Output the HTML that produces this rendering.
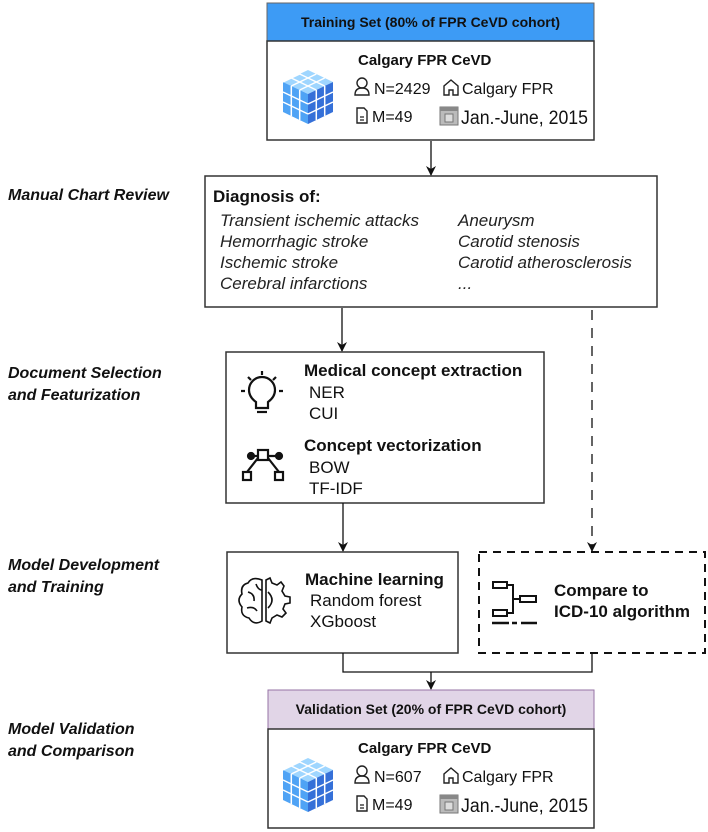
<!DOCTYPE html>
<html><head><meta charset="utf-8"><style>
html,body{margin:0;padding:0;background:#fff}
svg{display:block}
text{font-family:"Liberation Sans",Arial,sans-serif;fill:#111}
.lab{font-weight:bold;font-style:italic;font-size:16px}
.b{font-weight:bold}
.it{font-style:italic;font-size:17px;fill:#222}
</style></head><body>
<svg width="708" height="832" viewBox="0 0 708 832" xmlns="http://www.w3.org/2000/svg">
<defs>
<marker id="ar" markerWidth="10" markerHeight="10" refX="5" refY="9" orient="0" markerUnits="userSpaceOnUse">
<path d="M0,0 L5,10 L10,0 L5,3 Z" fill="#111"/></marker>
<g id="cube">
<polygon points="25,0 50,12 25,24 0,12" fill="#9fd6ff"/>
<polygon points="0,12 25,24 25,54 0,42" fill="#4fa3f5"/>
<polygon points="25,24 50,12 50,42 25,54" fill="#3570d8"/>
<g stroke="#fff" stroke-width="1.5" fill="none">
<path d="M8.3,8 L33.3,20 M16.7,4 L41.7,16 M16.7,4 L-0,12 M33.3,4 L8.3,16 M41.7,8 L16.7,20"/>
<path d="M0,22 L25,34 M0,32 L25,44 M8.3,16 L8.3,46 M16.7,20 L16.7,50"/>
<path d="M25,34 L50,22 M25,44 L50,32 M33.3,20 L33.3,50 M41.7,16 L41.7,46"/>
</g></g>
<g id="info">
<use href="#cube" x="283" y="70"/>
<text x="358" y="65" font-size="15" class="b">Calgary FPR CeVD</text>
<circle cx="362" cy="83" r="5" fill="none" stroke="#222" stroke-width="1.4"/>
<path d="M355,95 Q355,88 362,88 Q369,88 369,95 Z" fill="none" stroke="#222" stroke-width="1.4"/>
<path d="M444,95 V86 L451,80 L458,86 V95 H453 V90 H449 V95 Z" fill="none" stroke="#222" stroke-width="1.4"/>
<text x="462" y="94" font-size="16">Calgary FPR</text>
<path d="M357,108 H364 L367,111 V123 H357 Z" fill="none" stroke="#222" stroke-width="1.4"/>
<path d="M360,117 H364 M360,120 H364" stroke="#222" stroke-width="1.2"/>
<text x="372" y="122" font-size="16">M=49</text>
<rect x="440" y="107" width="18" height="18" fill="#bbb" stroke="#777"/>
<rect x="440" y="107" width="18" height="4" fill="#888"/>
<rect x="445" y="114" width="8" height="8" fill="#ddd" stroke="#777"/>
<text x="461" y="124" font-size="19" textLength="127" lengthAdjust="spacingAndGlyphs">Jan.-June, 2015</text>
</g>
</defs>

<text x="8" y="200" class="lab">Manual Chart Review</text>
<text x="8" y="378" class="lab">Document Selection</text>
<text x="8" y="400" class="lab">and Featurization</text>
<text x="8" y="570" class="lab">Model Development</text>
<text x="8" y="592" class="lab">and Training</text>
<text x="8" y="734" class="lab">Model Validation</text>
<text x="8" y="756" class="lab">and Comparison</text>

<rect x="267" y="3" width="327" height="38" fill="#3d9bf5" stroke="#666"/>
<text x="430.5" y="27" font-size="14" class="b" text-anchor="middle">Training Set (80% of FPR CeVD cohort)</text>
<rect x="267" y="41" width="327" height="99" fill="#fff" stroke="#333" stroke-width="1.5"/>
<use href="#info"/>
<text x="374" y="94" font-size="16">N=2429</text>

<line x1="431" y1="141" x2="431" y2="175" stroke="#111" stroke-width="1.3" marker-end="url(#ar)"/>

<rect x="205" y="176" width="452" height="131" fill="#fff" stroke="#333" stroke-width="1.5"/>
<text x="213" y="202" font-size="17" class="b">Diagnosis of:</text>
<text x="220" y="226" class="it">Transient ischemic attacks</text>
<text x="220" y="247" class="it">Hemorrhagic stroke</text>
<text x="220" y="268" class="it">Ischemic stroke</text>
<text x="220" y="289" class="it">Cerebral infarctions</text>
<text x="458" y="226" class="it">Aneurysm</text>
<text x="458" y="247" class="it">Carotid stenosis</text>
<text x="458" y="268" class="it">Carotid atherosclerosis</text>
<text x="458" y="289" class="it">...</text>

<line x1="342" y1="308" x2="342" y2="351" stroke="#111" stroke-width="1.3" marker-end="url(#ar)"/>
<line x1="592" y1="310" x2="592" y2="551" stroke="#111" stroke-width="1.3" stroke-dasharray="10,8" marker-end="url(#ar)"/>

<rect x="226" y="352" width="318" height="151" fill="#fff" stroke="#333" stroke-width="1.5"/>
<g stroke="#111" stroke-width="2.2" fill="none">
<path d="M256,408 V402 Q249,397 249,390 A13,13 0 1 1 275,390 Q275,397 268,402 V408 Z"/>
<path d="M257,412 H267"/>
<path d="M241,391 H245 M279,391 H283 M262,371 V375 M248,377 L251,380 M276,377 L273,380"/>
<circle cx="251" cy="456" r="3" fill="#111"/><circle cx="279" cy="456" r="3" fill="#111"/>
<rect x="258" y="450" width="10" height="10"/>
<path d="M251,456 H258 M268,456 H279 M258,458 L247,472 M268,458 L279,472"/>
<rect x="243" y="472" width="8" height="8"/><rect x="275" y="472" width="8" height="8"/>
</g>
<text x="304" y="376" font-size="17" class="b">Medical concept extraction</text>
<text x="309" y="398" font-size="17">NER</text>
<text x="309" y="419" font-size="17">CUI</text>
<text x="304" y="451" font-size="17" class="b">Concept vectorization</text>
<text x="309" y="473" font-size="17">BOW</text>
<text x="309" y="494" font-size="17">TF-IDF</text>

<line x1="343" y1="503" x2="343" y2="551" stroke="#111" stroke-width="1.3" marker-end="url(#ar)"/>

<rect x="227" y="552" width="231" height="101" fill="#fff" stroke="#333" stroke-width="1.5"/>
<g stroke="#111" stroke-width="1.6" fill="none">
<path d="M262,580 Q252,576 248,583 Q240,585 242,594 Q236,600 242,607 Q240,616 249,618 Q254,626 262,621 Z"/>
<path d="M248,592 Q255,594 254,601 M247,608 Q254,606 257,611 M256,584 Q258,590 262,590"/>
<path d="M266,580 L270,578 L272,583 L277,585 L281,582 L284,586 L282,591 L285,596 L290,597 L290,603 L285,604 L283,609 L286,613 L282,617 L277,615 L272,618 L270,623 L266,621 Z"/>
<path d="M268,592 Q276,600 268,608"/>
</g>
<text x="305" y="585" font-size="17" class="b">Machine learning</text>
<text x="310" y="606" font-size="17">Random forest</text>
<text x="310" y="627" font-size="17">XGboost</text>

<rect x="479" y="552" width="226" height="101" fill="#fff" stroke="#111" stroke-width="2" stroke-dasharray="8,6"/>
<g stroke="#111" stroke-width="2" fill="none">
<rect x="493" y="582" width="14" height="6"/><rect x="520" y="596" width="16" height="6"/><rect x="493" y="610" width="14" height="6"/>
<path d="M507,585 H513 V613 H507 M513,599 H520"/>
<path d="M492,623 H509 M512,623 H517 M521,623 H537" stroke-width="2.5"/>
</g>
<text x="554" y="596" font-size="17" class="b">Compare to</text>
<text x="554" y="617" font-size="17" class="b">ICD-10 algorithm</text>

<path d="M343,653 V672 H592 V653" fill="none" stroke="#111" stroke-width="1.3"/>
<line x1="431" y1="672" x2="431" y2="689" stroke="#111" stroke-width="1.3" marker-end="url(#ar)"/>

<rect x="268" y="690" width="326" height="39" fill="#e1d5e7" stroke="#9673a6"/>
<text x="431" y="714" font-size="14" class="b" text-anchor="middle">Validation Set (20% of FPR CeVD cohort)</text>
<rect x="268" y="729" width="326" height="99" fill="#fff" stroke="#333" stroke-width="1.5"/>
<use href="#info" y="688"/>
<text x="374" y="782" font-size="16">N=607</text>
</svg>
</body></html>
